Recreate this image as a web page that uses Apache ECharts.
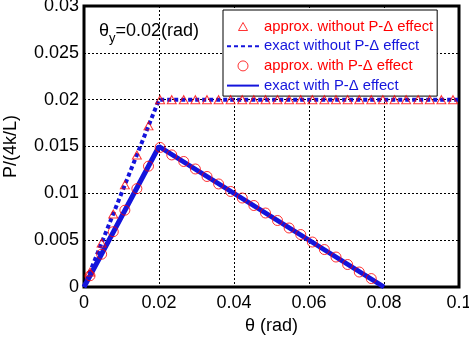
<!DOCTYPE html>
<html><head><meta charset="utf-8">
<script src="https://cdn.jsdelivr.net/npm/echarts@6/dist/echarts.min.js"></script>
<style>html,body{margin:0;padding:0;background:#fff}#c{width:469px;height:338px}</style>
</head><body><div id="c"></div>
<script>
var thetaTri = [0.0016,0.0047,0.0078,0.0109,0.0141,0.0172,0.0203,0.0234,0.0266,0.0297,0.0328,0.0359,0.0391,0.0422,0.0453,0.0484,0.0516,0.0547,0.0578,0.0609,0.0641,0.0672,0.0703,0.0734,0.0766,0.0797,0.0828,0.0859,0.0891,0.0922,0.0953,0.0984];
var pTri = [0.0016,0.0047,0.0078,0.0109,0.0141,0.0172,0.02,0.02,0.02,0.02,0.02,0.02,0.02,0.02,0.02,0.02,0.02,0.02,0.02,0.02,0.02,0.02,0.02,0.02,0.02,0.02,0.02,0.02,0.02,0.02,0.02,0.02];
var thetaCirc = [0.0016,0.0047,0.0078,0.0109,0.0141,0.0172,0.0203,0.0234,0.0266,0.0297,0.0328,0.0359,0.0391,0.0422,0.0453,0.0484,0.0516,0.0547,0.0578,0.0609,0.0641,0.0672,0.0703,0.0734,0.0766];
var pCirc = [0.0012,0.0035,0.0059,0.0082,0.0105,0.0129,0.0149,0.0141,0.0134,0.0126,0.0118,0.0110,0.0102,0.0095,0.0087,0.0079,0.0071,0.0063,0.0056,0.0048,0.0040,0.0032,0.0024,0.0016,0.0009];
var thetaExactNo = [0, 0.02, 0.1];
var pExactNo = [0, 0.02, 0.02];
var thetaExactWith = [0, 0.02, 0.08];
var pExactWith = [0, 0.015, 0];
var names = ['approx. without P-\u0394 effect','exact without P-\u0394 effect','approx. with P-\u0394 effect','exact with P-\u0394 effect'];

function zip(a,b){return a.map(function(v,i){return [v,b[i]];});}
var FONT = "'Liberation Sans', Arial, sans-serif";
var RED = '#ff0000', BLUE = '#1414dc';
var triIcon = 'path://M0,0M32,14M11.5,11L16,3L20.5,11Z';
var circIcon = 'path://M0,0M32,14M11,7A5,5 0 1,1 21,7A5,5 0 1,1 11,7Z';
var chart = echarts.init(document.getElementById('c'));
chart.setOption({
  animation:false,
  textStyle:{fontFamily:FONT},
  grid:{left:84,right:10,top:6,bottom:51,outerBoundsMode:'none',containLabel:false,show:true,borderColor:'#000',borderWidth:3,backgroundColor:'transparent'},
  xAxis:{type:'value',min:0,max:0.1,interval:0.02,
    name:'\u03b8 (rad)',nameLocation:'middle',nameGap:29,nameTextStyle:{fontSize:18,color:'#000',fontFamily:FONT},
    axisLine:{show:false},axisTick:{show:false},
    axisLabel:{fontSize:18,color:'#000',margin:7,fontFamily:FONT},
    splitLine:{show:true,lineStyle:{color:'#000',type:[2,2],width:1}}},
  yAxis:{type:'value',min:0,max:0.03,interval:0.005,
    name:'P/(4k/L)',nameLocation:'middle',nameGap:64,nameTextStyle:{fontSize:18,color:'#000',fontFamily:FONT},
    axisLine:{show:false},axisTick:{show:false},
    axisLabel:{fontSize:18,color:'#000',margin:5,fontFamily:FONT},
    splitLine:{show:true,lineStyle:{color:'#000',type:[2,2],width:1}}},
  legend:{orient:'vertical',left:223,top:10,itemWidth:32,itemHeight:14,itemGap:4.7,
    padding:[9,4,3,3],backgroundColor:'#fff',borderColor:'#000',borderWidth:1,
    textStyle:{fontSize:14.8,fontFamily:FONT},
    data:[
      {name:names[0],icon:triIcon,itemStyle:{color:'transparent',borderColor:RED,borderWidth:1},textStyle:{color:RED}},
      {name:names[1],itemStyle:{color:'transparent',borderWidth:0},textStyle:{color:BLUE}},
      {name:names[2],icon:circIcon,itemStyle:{color:'transparent',borderColor:RED,borderWidth:1},textStyle:{color:RED}},
      {name:names[3],itemStyle:{color:'transparent',borderWidth:0},textStyle:{color:BLUE}}
    ]},
  graphic:[{type:'text',left:99,top:22,style:{
    text:'\u03b8{s|y}=0.02(rad)',font:'18px '+FONT,fill:'#000',
    rich:{s:{fontSize:13,fontFamily:FONT,padding:[14,0,0,0]}}}}],
  series:[
    {name:names[0],type:'scatter',data:zip(thetaTri,pTri),symbol:'triangle',symbolSize:[9,8],z:5,
      itemStyle:{color:'transparent',borderColor:RED,borderWidth:1}},
    {name:names[1],type:'line',data:zip(thetaExactNo,pExactNo),symbol:'none',z:2,
      lineStyle:{color:BLUE,width:4,type:[4,3]},itemStyle:{color:BLUE}},
    {name:names[2],type:'scatter',data:zip(thetaCirc,pCirc),symbol:'circle',symbolSize:10,z:5,
      itemStyle:{color:'transparent',borderColor:RED,borderWidth:1}},
    {name:names[3],type:'line',data:zip(thetaExactWith,pExactWith),symbol:'none',z:2,
      lineStyle:{color:BLUE,width:5,type:'solid'},itemStyle:{color:BLUE}}
  ]
});
</script></body></html>
